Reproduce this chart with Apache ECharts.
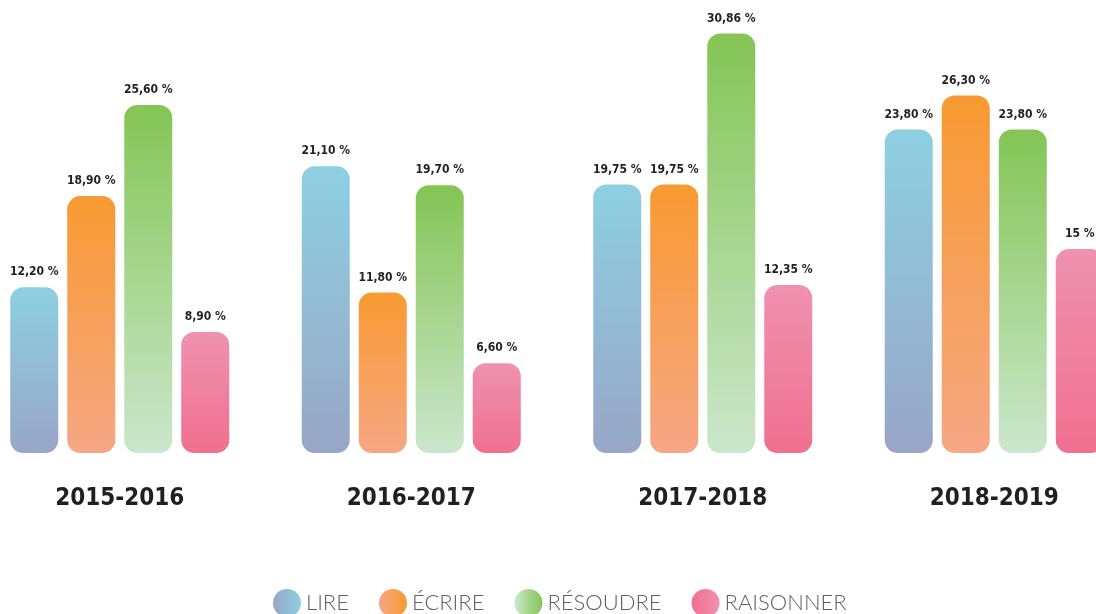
<!DOCTYPE html>
<html><head><meta charset="utf-8">
<script src="https://cdn.jsdelivr.net/npm/echarts@6/dist/echarts.min.js"></script>
<style>html,body{margin:0;padding:0;background:#fff}#c{width:1096px;height:614px}</style>
</head><body><div id="c"></div>
<script>
const categories = ['2015-2016', '2016-2017', '2017-2018', '2018-2019'];
const seriesNames = ['LIRE', 'ÉCRIRE', 'RÉSOUDRE', 'RAISONNER'];
const lire = [12.20, 21.10, 19.75, 23.80];
const ecrire = [18.90, 11.80, 19.75, 26.30];
const resoudre = [25.60, 19.70, 30.86, 23.80];
const raisonner = [8.90, 6.60, 12.35, 15];
const values = [lire, ecrire, resoudre, raisonner];
// [top colour, bottom colour]
const colors = [['#8dd0e1', '#98a6c8'], ['#f89a31', '#f6a784'], ['#84c555', '#cbe7cc'], ['#ef91b0', '#f07090']];

const fmt = v => (Number.isInteger(v) ? String(v) : v.toFixed(2).replace('.', ',')) + ' %';
const vgrad = c => new echarts.graphic.LinearGradient(0, 0, 0, 1, [{offset: 0, color: c[0]}, {offset: 1, color: c[1]}]);
const hgrad = c => new echarts.graphic.LinearGradient(0, 0, 1, 0, [{offset: 0, color: c[1]}, {offset: 1, color: c[0]}]);

const chart = echarts.init(document.getElementById('c'));
chart.setOption({
  animation: false,
  backgroundColor: '#ffffff',
  grid: {left: -26, width: 1166, top: 18, bottom: 161, containLabel: false, outerBoundsMode: 'none'},
  xAxis: {
    type: 'category', data: categories,
    axisLine: {show: false}, axisTick: {show: false},
    axisLabel: {margin: 34, fontFamily: 'DejaVu Sans Condensed', fontWeight: 'bold', fontSize: 24, color: '#231f20'}
  },
  yAxis: {type: 'value', min: 0, max: 32, show: false, splitLine: {show: false}},
  legend: {
    left: 268, top: 584, padding: 5, itemWidth: 28, itemHeight: 28, itemGap: 30, icon: 'circle',
    textStyle: {fontFamily: 'Lato', fontWeight: 300, fontSize: 22, color: '#5f6063'},
    data: seriesNames.map((n, i) => ({name: n, itemStyle: {color: hgrad(colors[i])}}))
  },
  series: seriesNames.map((n, i) => ({
    name: n, type: 'bar', data: values[i], barWidth: 48, barGap: '18.75%',
    itemStyle: {color: vgrad(colors[i]), borderRadius: 13},
    label: {show: true, position: 'top', distance: 9, formatter: p => fmt(p.value),
      fontFamily: 'DejaVu Sans Condensed', fontWeight: 'bold', fontSize: 12, color: '#231f20'}
  }))
});
</script></body></html>
